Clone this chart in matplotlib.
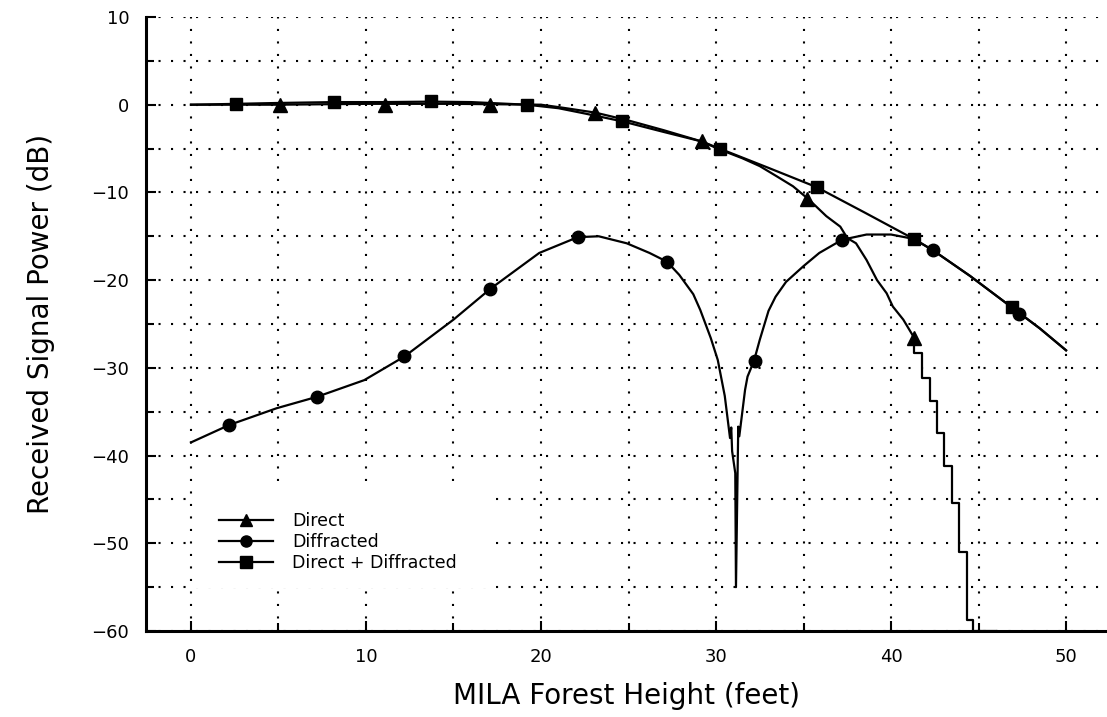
import numpy as np
import matplotlib
matplotlib.use('Agg')
from matplotlib import pyplot as plt
from matplotlib.lines import Line2D
from matplotlib.patches import Rectangle

# Direct path (smooth part, then the staircase tail)
direct_x = [0, 5, 10, 15, 20, 21.1, 23.1, 25, 27, 29.2, 30.2, 31.5, 32.5, 33.5, 34.4,
            35.3, 36.3, 37.1, 37.5, 38.0, 38.6, 39.2, 39.75, 40.1, 40.7, 41.33]
direct_y = [0, 0, 0.1, 0.1, 0, -0.3, -0.9, -1.8, -2.9, -4.2, -5.1, -6.1, -7.0, -8.2, -9.3,
            -10.8, -12.7, -13.9, -15.2, -15.8, -17.7, -20.0, -21.5, -23.0, -24.5, -26.6]
stair_x = [41.33, 41.33, 41.75, 42.23, 42.65, 43.03, 43.47, 43.9, 44.36, 44.7, 46.0]
stair_y = [-26.6, -28.3, -31.2, -33.8, -37.4, -41.2, -45.4, -51.0, -58.7, -60.0, -60.0]

# Diffracted path
diff_x = [0, 2.2, 4.9, 7.2, 9.9, 12.2, 15.0, 17.1, 19.9, 22.1, 23.3, 24.9, 26.2, 27.2,
          27.9, 28.7, 29.1, 29.7, 30.1, 30.5, 30.8, 30.87, 30.92, 31.1, 31.14, 31.27,
          31.33, 31.66, 31.8, 32.17, 32.5, 33.0, 33.4, 34.0, 35.0, 35.9, 37.2, 38.6,
          40.0, 41.3, 42.4, 44.5, 46.9, 48.5, 50.0]
diff_y = [-38.5, -36.5, -34.6, -33.3, -31.4, -28.7, -24.5, -21.0, -16.9, -15.1, -15.0,
          -15.8, -16.9, -17.9, -19.4, -21.6, -23.4, -26.6, -29.1, -33.2, -38.0, -36.8,
          -39.5, -42.0, -55.0, -36.7, -37.8, -32.5, -31.0, -29.2, -26.8, -23.5, -21.9,
          -20.2, -18.4, -16.9, -15.4, -14.8, -14.8, -15.3, -16.6, -19.5, -23.1, -25.5, -28.0]

# Direct + Diffracted
comb_x = [0, 2.6, 5, 8.2, 11, 13.7, 16, 19.2, 21, 22.5, 24.65, 27, 29.2, 30.2, 33,
          35.75, 38.5, 41.3, 42.4, 44.5, 46.9, 48.5, 50.0]
comb_y = [0, 0.1, 0.2, 0.3, 0.3, 0.35, 0.3, 0.0, -0.4, -1.0, -1.9, -3.1, -4.2, -5.0, -7.2,
          -9.4, -12.3, -15.3, -16.6, -19.5, -23.1, -25.5, -28.0]

# marker positions
tri_x = [5.1, 11.1, 17.1, 23.1, 29.2, 35.2, 41.3]
tri_y = [0, 0, 0, -0.9, -4.1, -10.7, -26.6]
circ_x = [2.2, 7.2, 12.2, 17.1, 22.1, 27.2, 32.2, 37.2, 42.4, 47.3]
circ_y = [-36.5, -33.3, -28.7, -21.0, -15.1, -17.9, -29.2, -15.4, -16.6, -23.9]
sq_x = [2.6, 8.2, 13.7, 19.2, 24.65, 30.2, 35.75, 41.3, 46.9]
sq_y = [0.1, 0.3, 0.4, 0.0, -1.9, -5.0, -9.4, -15.3, -23.1]

fig = plt.figure(figsize=(11.07, 7.17), dpi=100)
ax = fig.add_axes([146 / 1107, 1 - 631 / 717, 1 - 146 / 1107, (631 - 17) / 717])

lw = 1.6
ms = 9
ax.plot(direct_x, direct_y, color='k', lw=lw)
ax.plot(stair_x, stair_y, color='k', lw=lw, drawstyle='steps-post')
ax.plot(diff_x, diff_y, color='k', lw=lw)
ax.plot(comb_x, comb_y, color='k', lw=lw)
ax.plot(tri_x, tri_y, '^', color='k', ms=ms + 1, ls='none')
ax.plot(circ_x, circ_y, 'o', color='k', ms=ms, ls='none')
ax.plot(sq_x, sq_y, 's', color='k', ms=ms, ls='none')

ax.set_xlim(-2.57, 52.34)
ax.set_ylim(-60, 10)
ax.set_xticks(np.arange(0, 51, 10))
ax.set_xticks(np.arange(0, 51, 5), minor=True)
ax.set_yticks(np.arange(-60, 11, 10))
ax.set_yticks(np.arange(-60, 11, 5), minor=True)
ax.grid(True, which='both', color='k', ls=(0, (1, 5)), lw=1.5)
ax.tick_params(which='major', direction='in', length=7, width=1.5, labelsize=13, pad=12)
ax.tick_params(which='minor', direction='in', length=6, width=1.5)
for s in ['top', 'right']:
    ax.spines[s].set_visible(False)
for s in ['left', 'bottom']:
    ax.spines[s].set_linewidth(2.2)

ax.set_xlabel('MILA Forest Height (feet)', fontsize=20, labelpad=12)
ax.set_ylabel('Received Signal Power (dB)', fontsize=20, labelpad=26)

# white patch behind the legend hides the grid there
ax.add_patch(Rectangle((0.052, 0.070), 0.304, 0.16, transform=ax.transAxes,
                       facecolor='white', edgecolor='none', zorder=1.8))

handles = [Line2D([], [], color='k', lw=lw, marker='^', ms=ms),
           Line2D([], [], color='k', lw=lw, marker='o', ms=ms - 1),
           Line2D([], [], color='k', lw=lw, marker='s', ms=ms - 1)]
ax.legend(handles, ['Direct', 'Diffracted', 'Direct + Diffracted'], loc='upper left',
          bbox_to_anchor=(0.076, 0.194), frameon=False, fontsize=12.5, handlelength=3.1,
          handletextpad=1.1, labelspacing=0.17, borderpad=0, borderaxespad=0)

fig.savefig('out.png', dpi=100)
